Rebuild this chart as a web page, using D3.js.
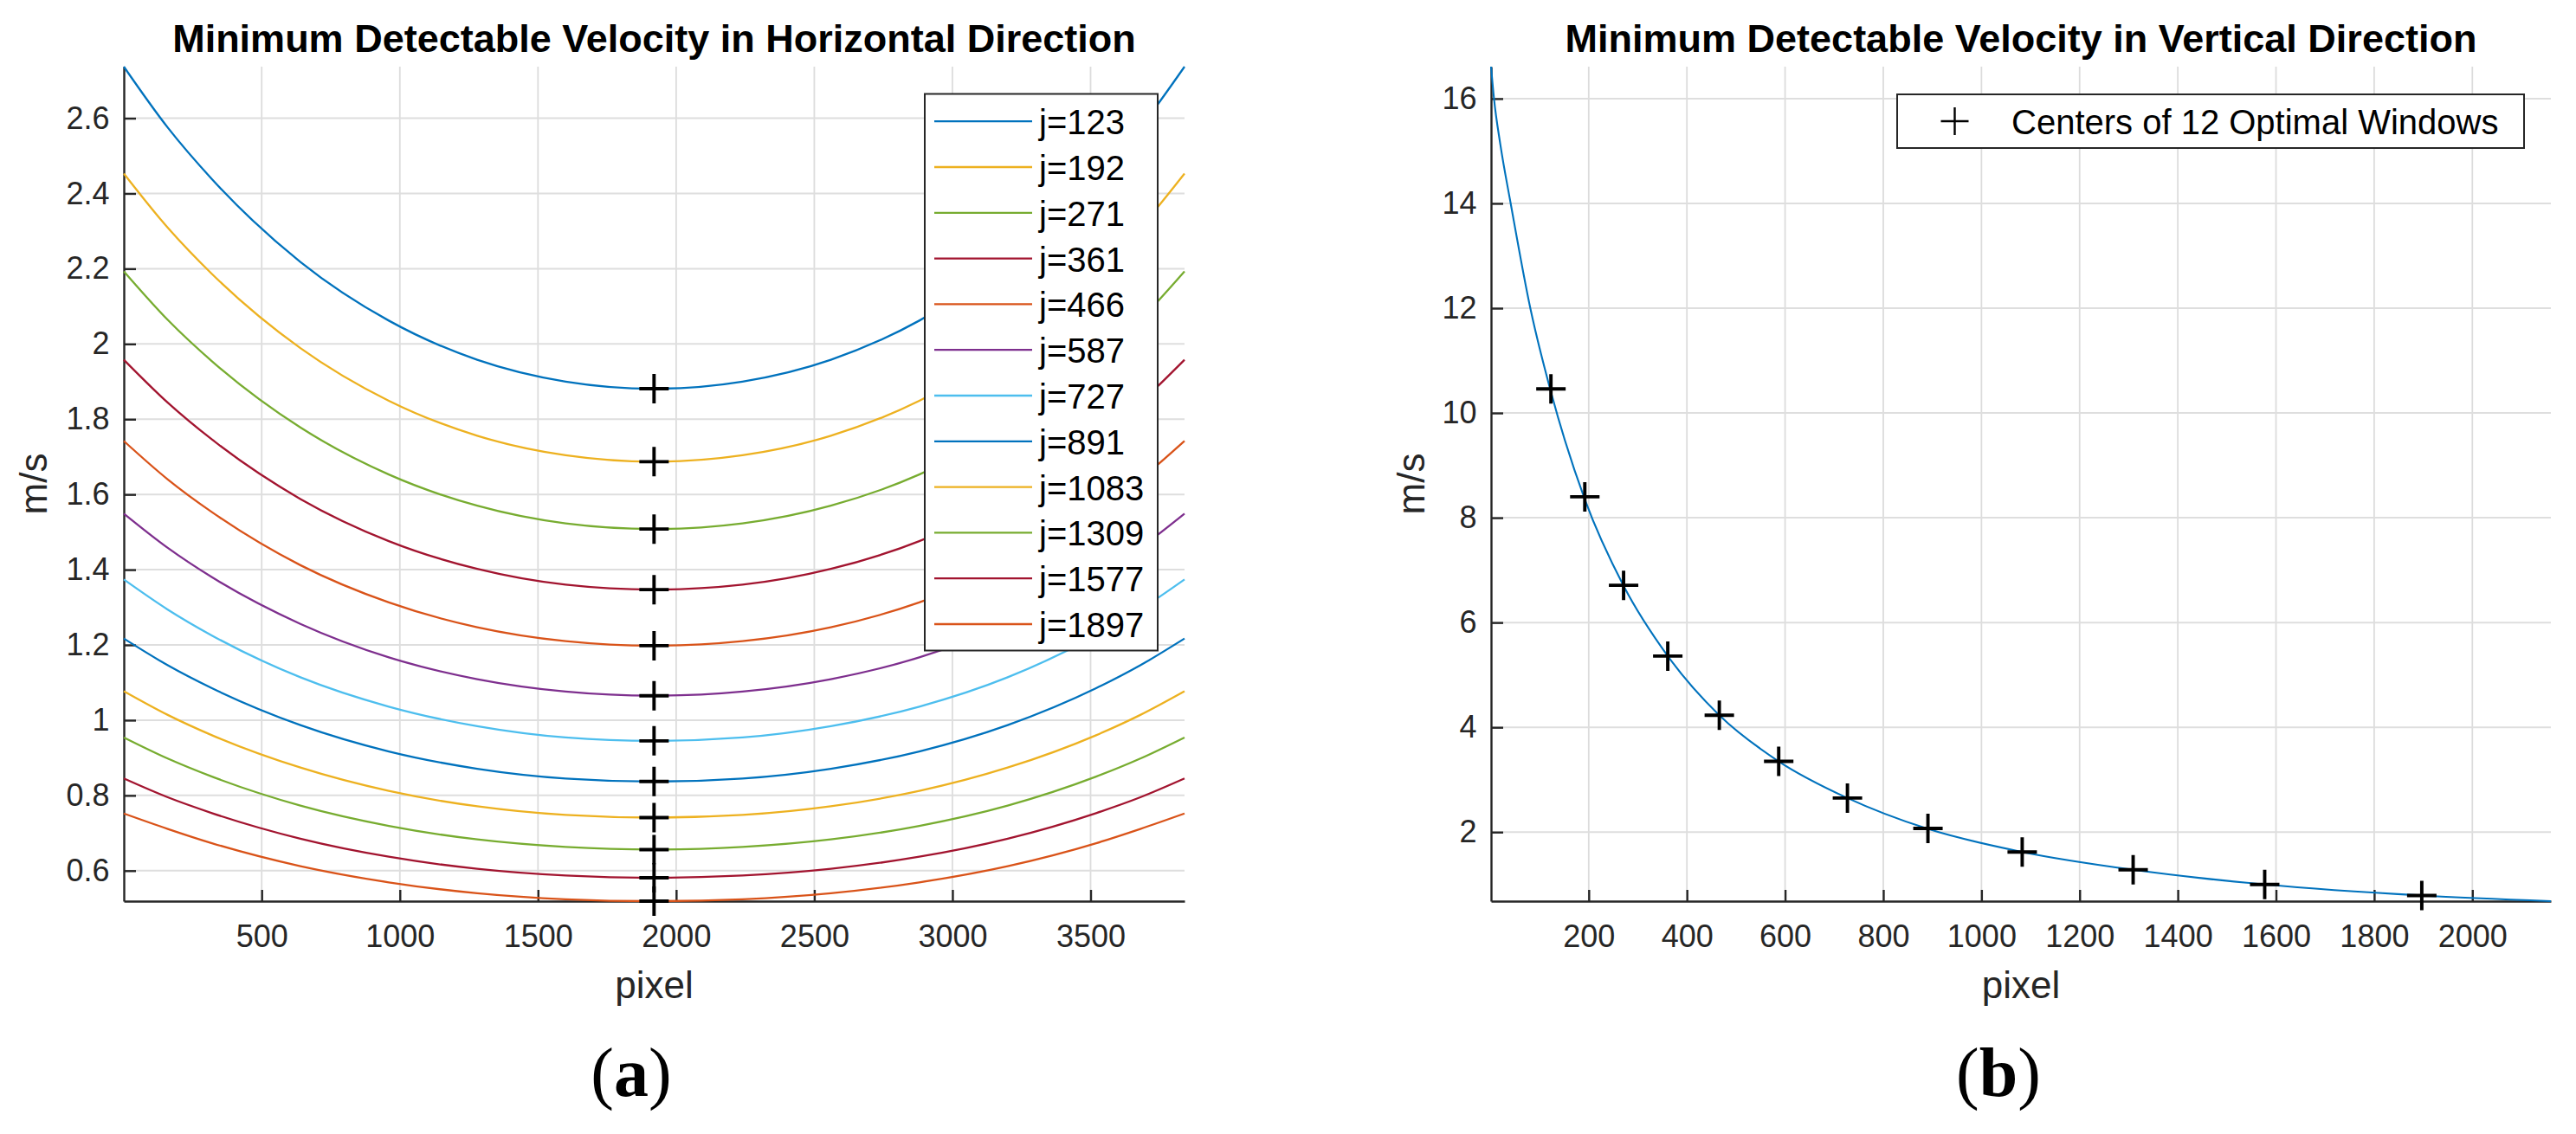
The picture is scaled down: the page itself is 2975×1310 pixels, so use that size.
<!DOCTYPE html>
<html>
<head>
<meta charset="utf-8">
<script src="https://cdn.jsdelivr.net/npm/d3@7"></script>
<style>
  body { margin: 0; background: white; }
  svg text { font-family: 'Liberation Sans', Arial, Helvetica, sans-serif; }
</style>
</head>
<body>
<script>
const width = 2975
const height = 1310

// rows j of the 12 optimal windows
const rows = [123, 192, 271, 361, 466, 587, 727, 891, 1083, 1309, 1577, 1897]

// (a) horizontal direction, sampled along the pixel axis
const hPixels = [1, 160, 320, 640, 960, 1280, 1600, 1920, 2240, 2560, 2880, 3200, 3520, 3680, 3840]
const hValues = [
  [2.737, 2.575, 2.438, 2.218, 2.062, 1.958, 1.900, 1.881, 1.900, 1.958, 2.062, 2.218, 2.438, 2.575, 2.737],
  [2.453, 2.309, 2.186, 1.989, 1.849, 1.756, 1.704, 1.687, 1.704, 1.756, 1.849, 1.989, 2.186, 2.309, 2.453],
  [2.193, 2.064, 1.954, 1.778, 1.653, 1.570, 1.523, 1.508, 1.523, 1.570, 1.653, 1.778, 1.954, 2.064, 2.193],
  [1.958, 1.844, 1.746, 1.588, 1.476, 1.402, 1.360, 1.347, 1.360, 1.402, 1.476, 1.588, 1.746, 1.844, 1.958],
  [1.742, 1.640, 1.553, 1.412, 1.313, 1.247, 1.210, 1.198, 1.210, 1.247, 1.313, 1.412, 1.553, 1.640, 1.742],
  [1.549, 1.458, 1.380, 1.256, 1.167, 1.109, 1.076, 1.065, 1.076, 1.109, 1.167, 1.256, 1.380, 1.458, 1.549],
  [1.374, 1.294, 1.225, 1.114, 1.036, 0.984, 0.954, 0.945, 0.954, 0.984, 1.036, 1.114, 1.225, 1.294, 1.374],
  [1.217, 1.146, 1.085, 0.987, 0.917, 0.871, 0.845, 0.837, 0.845, 0.871, 0.917, 0.987, 1.085, 1.146, 1.217],
  [1.077, 1.014, 0.960, 0.874, 0.812, 0.771, 0.748, 0.741, 0.748, 0.771, 0.812, 0.874, 0.960, 1.014, 1.077],
  [0.954, 0.898, 0.850, 0.773, 0.719, 0.683, 0.663, 0.656, 0.663, 0.683, 0.719, 0.773, 0.850, 0.898, 0.954],
  [0.845, 0.795, 0.753, 0.685, 0.637, 0.605, 0.587, 0.581, 0.587, 0.605, 0.637, 0.685, 0.753, 0.795, 0.845],
  [0.752, 0.711, 0.673, 0.612, 0.569, 0.540, 0.524, 0.519, 0.524, 0.540, 0.569, 0.612, 0.673, 0.711, 0.752]
]
const hCenterPixel = 1920
const hCenters = [1.881, 1.687, 1.508, 1.347, 1.198, 1.065, 0.945, 0.837, 0.741, 0.656, 0.581, 0.519]
const hXTicks = [500, 1000, 1500, 2000, 2500, 3000, 3500]
const hYTicks = [0.6, 0.8, 1, 1.2, 1.4, 1.6, 1.8, 2, 2.2, 2.4, 2.6]

// (b) vertical direction
const vPixels = [1, 7, 20, 41, 81, 123, 192, 271, 361, 466, 587, 727, 891, 1083, 1309, 1577, 1897, 2160]
const vValues = [16.61, 16.0, 15.12, 14.0, 12.0, 10.4, 8.35, 6.7, 5.36, 4.23, 3.35, 2.65, 2.06, 1.62, 1.28, 1.0, 0.79, 0.682]
const vCenters = [10.46, 8.4, 6.71, 5.36, 4.23, 3.35, 2.65, 2.07, 1.62, 1.28, 1.0, 0.79]
const vXTicks = [200, 400, 600, 800, 1000, 1200, 1400, 1600, 1800, 2000]
const vYTicks = [2, 4, 6, 8, 10, 12, 14, 16]

const colors = ['#0072BD', '#EDB120', '#77AC30', '#A2142F', '#D95319', '#7E2F8E',
                '#4DBEEE', '#0072BD', '#EDB120', '#77AC30', '#A2142F', '#D95319']
const axisColor = '#262626'

const svg = d3.select('body')
  .append('svg')
  .attr('width', width)
  .attr('height', height)
  .style('background-color', 'white')

function plus(size) {
  let h = size / 2
  return 'M' + -h + ',0H' + h + 'M0,' + -h + 'V' + h
}

function panel(p) {
  const g = svg.append('g')
  const x = d3.scaleLinear().domain(p.xDomain).range([p.left, p.right])
  const y = d3.scaleLinear().domain(p.yDomain).range([p.bottom, p.top])

  // grid
  g.append('g').selectAll('line')
    .data(p.xTicks)
    .join('line')
    .attr('x1', d => x(d)).attr('x2', d => x(d))
    .attr('y1', p.top).attr('y2', p.bottom)
    .attr('stroke', '#dcdcdc')
    .attr('stroke-width', 1.8)
  g.append('g').selectAll('line')
    .data(p.yTicks)
    .join('line')
    .attr('x1', p.left).attr('x2', p.right)
    .attr('y1', d => y(d)).attr('y2', d => y(d))
    .attr('stroke', '#dedede')
    .attr('stroke-width', 2)

  // axes, ticks point inward like matlab
  const xAxis = g.append('g')
    .attr('transform', 'translate(0,' + p.bottom + ')')
    .call(d3.axisBottom(x).tickValues(p.xTicks).tickFormat(d => String(d))
      .tickSizeInner(-13).tickSizeOuter(0).tickPadding(27))
  const yAxis = g.append('g')
    .attr('transform', 'translate(' + p.left + ',0)')
    .call(d3.axisLeft(y).tickValues(p.yTicks).tickFormat(d => String(d))
      .tickSizeInner(-14).tickSizeOuter(0).tickPadding(16.5))
  ;[xAxis, yAxis].forEach(a => {
    a.attr('font-family', null).attr('font-size', 36)
    a.selectAll('path, line').attr('stroke', axisColor).attr('stroke-width', 2.4)
    a.selectAll('text').attr('fill', axisColor)
  })

  let cx = (p.left + p.right) / 2
  svg.append('text')
    .attr('x', cx)
    .attr('y', 60)
    .attr('text-anchor', 'middle')
    .style('font-weight', 'bold')
    .style('font-size', '45px')
    .text(p.title)
  svg.append('text')
    .attr('x', cx)
    .attr('y', 1153)
    .attr('text-anchor', 'middle')
    .attr('fill', axisColor)
    .style('font-size', '44px')
    .text('pixel')
  svg.append('text')
    .attr('transform', 'translate(' + p.yLabelX + ',' + (p.top + p.bottom) / 2 + ')rotate(-90)')
    .attr('text-anchor', 'middle')
    .attr('fill', axisColor)
    .style('font-size', '44px')
    .text('m/s')

  // subfigure tag, letter in bold serif
  let tag = svg.append('text')
    .attr('x', p.tagX)
    .attr('y', 1266)
    .attr('text-anchor', 'middle')
    .style('font-family', "'Liberation Serif', 'Times New Roman', serif")
    .style('font-size', '80px')
  tag.append('tspan').text('(')
  tag.append('tspan').style('font-weight', 'bold').text(p.tag)
  tag.append('tspan').text(')')

  return { g, x, y }
}

// ---- (a) horizontal ----
const allH = hValues.flat()
const a = panel({
  left: 143, right: 1368, top: 77, bottom: 1041,
  xDomain: [hPixels[0], hPixels[hPixels.length - 1]],
  yDomain: d3.extent(allH),
  xTicks: hXTicks, yTicks: hYTicks,
  title: 'Minimum Detectable Velocity in Horizontal Direction',
  yLabelX: 54, tag: 'a', tagX: 729
})

const hLine = d3.line()
  .x((d, i) => a.x(hPixels[i]))
  .y(d => a.y(d))
  .curve(d3.curveMonotoneX)

a.g.append('g').selectAll('path')
  .data(hValues)
  .join('path')
  .attr('d', hLine)
  .attr('fill', 'none')
  .attr('stroke', (d, i) => colors[i])
  .attr('stroke-width', 2.3)

a.g.append('g').selectAll('path')
  .data(hCenters)
  .join('path')
  .attr('transform', d => 'translate(' + a.x(hCenterPixel) + ',' + a.y(d) + ')')
  .attr('d', plus(34))
  .attr('stroke', 'black')
  .attr('stroke-width', 3.9)

// legend (a)
const legA = a.g.append('g')
legA.append('rect')
  .attr('x', 1068).attr('y', 108.5)
  .attr('width', 269).attr('height', 643)
  .attr('fill', 'white')
  .attr('stroke', axisColor)
  .attr('stroke-width', 2)
const legRows = legA.selectAll('g.row')
  .data(rows)
  .join('g')
  .attr('class', 'row')
  .attr('transform', (d, i) => 'translate(0,' + (140.2 + i * 52.8) + ')')
legRows.append('line')
  .attr('x1', 1079).attr('x2', 1192)
  .attr('stroke', (d, i) => colors[i])
  .attr('stroke-width', 2.3)
legRows.append('text')
  .attr('x', 1200)
  .attr('y', 1)
  .attr('dominant-baseline', 'central')
  .style('font-size', '40px')
  .text(d => 'j=' + d)

// ---- (b) vertical ----
const b = panel({
  left: 1722, right: 2946, top: 77, bottom: 1041,
  xDomain: [vPixels[0], vPixels[vPixels.length - 1]],
  yDomain: d3.extent(vValues),
  xTicks: vXTicks, yTicks: vYTicks,
  title: 'Minimum Detectable Velocity in Vertical Direction',
  yLabelX: 1645, tag: 'b', tagX: 2308
})

const vLine = d3.line()
  .x((d, i) => b.x(vPixels[i]))
  .y(d => b.y(d))
  .curve(d3.curveMonotoneX)

b.g.append('path')
  .datum(vValues)
  .attr('d', vLine)
  .attr('fill', 'none')
  .attr('stroke', '#0072BD')
  .attr('stroke-width', 2.1)

b.g.append('g').selectAll('path')
  .data(vCenters)
  .join('path')
  .attr('transform', (d, i) => 'translate(' + b.x(rows[i]) + ',' + b.y(d) + ')')
  .attr('d', plus(34))
  .attr('stroke', 'black')
  .attr('stroke-width', 3.9)

// legend (b)
const legB = b.g.append('g')
legB.append('rect')
  .attr('x', 2191).attr('y', 109)
  .attr('width', 724).attr('height', 62)
  .attr('fill', 'white')
  .attr('stroke', axisColor)
  .attr('stroke-width', 2)
legB.append('path')
  .attr('transform', 'translate(2257.5,140)')
  .attr('d', plus(32))
  .attr('stroke', 'black')
  .attr('stroke-width', 2.4)
legB.append('text')
  .attr('x', 2323)
  .attr('y', 141)
  .attr('dominant-baseline', 'central')
  .style('font-size', '40px')
  .text('Centers of 12 Optimal Windows')
</script>
</body>
</html>
